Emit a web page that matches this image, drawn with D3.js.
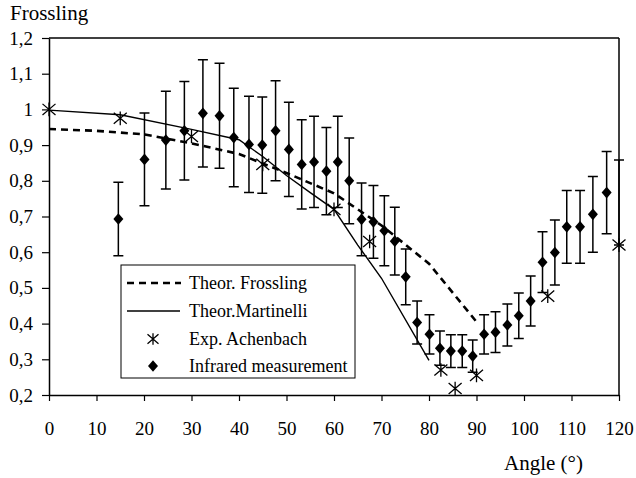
<!DOCTYPE html>
<html><head><meta charset="utf-8">
<script src="https://cdn.jsdelivr.net/npm/d3@7"></script>
<style>
body{margin:0;background:#fff;}
text{font-family:"Liberation Serif","Times New Roman",Times,serif;fill:#000;}
</style></head>
<body><svg id="c" width="636" height="478"></svg>
<script>
// ---- data ----
const xTicks = [0,10,20,30,40,50,60,70,80,90,100,110,120];
const yTicks = [0.2,0.3,0.4,0.5,0.6,0.7,0.8,0.9,1.0,1.1,1.2];
const yTickLabels = ["0,2","0,3","0,4","0,5","0,6","0,7","0,8","0,9","1","1,1","1,2"];

const frosslingAngle = [0,10,20,30,40,50,60,70,80,90];
const frosslingValue = [0.945,0.940,0.930,0.905,0.875,0.822,0.765,0.675,0.568,0.405];

const martinelliAngle = [0,15,30,40,45,50,55,60,65,70,80];
const martinelliValue = [0.998,0.985,0.944,0.915,0.868,0.815,0.767,0.720,0.620,0.527,0.297];

const achenbachAngle = [0,15,30,45,60,67.5,82.5,85.5,90,105,120];
const achenbachValue = [1.0,0.975,0.924,0.846,0.72,0.63,0.27,0.218,0.255,0.477,0.62];

const irAngle = [14.6,20.1,24.6,28.5,32.4,35.9,38.9,42.1,44.9,47.7,50.5,53.2,55.8,58.4,60.8,63.2,65.8,68.3,70.6,72.8,75.1,77.5,80.1,82.3,84.6,87.0,89.2,91.6,94.0,96.5,98.9,101.4,103.9,106.5,109.0,111.8,114.5,117.4];
const irValue = [0.693,0.860,0.914,0.940,0.989,0.982,0.921,0.902,0.900,0.940,0.888,0.846,0.853,0.827,0.853,0.800,0.692,0.685,0.660,0.631,0.531,0.403,0.370,0.331,0.323,0.323,0.309,0.370,0.376,0.396,0.422,0.463,0.572,0.599,0.671,0.671,0.706,0.767];
const irError = [0.103,0.130,0.137,0.138,0.150,0.147,0.138,0.135,0.135,0.140,0.132,0.125,0.128,0.122,0.128,0.120,0.102,0.102,0.098,0.095,0.078,0.060,0.055,0.048,0.046,0.046,0.045,0.055,0.057,0.059,0.064,0.070,0.085,0.091,0.102,0.102,0.106,0.115];

// error bar at the right edge without visible marker
const edgeBarAngle = [120];
const edgeBarLow = [0.62];
const edgeBarHigh = [0.858];

const legendLabels = ["Theor. Frossling","Theor.Martinelli","Exp. Achenbach","Infrared measurement"];

// ---- drawing ----
const svg = d3.select("#c");
const x = d3.scaleLinear().domain([0,120]).range([49,619]);
const y = d3.scaleLinear().domain([0.2,1.2]).range([395,38]);

// frame top & right
svg.append("line").attr("x1",x(0)).attr("x2",x(120)).attr("y1",y(1.2)).attr("y2",y(1.2)).attr("stroke","#000").attr("stroke-width",1.5);
svg.append("line").attr("x1",x(120)).attr("x2",x(120)).attr("y1",y(1.2)).attr("y2",y(0.2)).attr("stroke","#000").attr("stroke-width",1.5);

const xAxis = svg.append("g").attr("transform",`translate(0,${y(0.2)})`)
  .call(d3.axisBottom(x).tickValues(xTicks).tickSize(6).tickSizeOuter(0).tickPadding(21).tickFormat(d=>String(d)));
const yAxis = svg.append("g").attr("transform",`translate(${x(0)},0)`)
  .call(d3.axisLeft(y).tickValues(yTicks).tickSize(7).tickSizeOuter(0).tickPadding(9).tickFormat((d,i)=>yTickLabels[i]));
[xAxis,yAxis].forEach(g=>{
  g.attr("font-family",null);
  g.selectAll("path.domain").attr("stroke","#000").attr("stroke-width",1.5);
  g.selectAll(".tick line").attr("stroke","#000").attr("stroke-width",1.2);
  g.selectAll("text").attr("font-size",19).attr("fill","#000");
});

svg.append("text").attr("x",10).attr("y",20).attr("font-size",21).text("Frossling");
svg.append("text").attr("x",504).attr("y",470).attr("font-size",21).text("Angle (°)");

// lines
const line = d3.line().x(d=>x(d[0])).y(d=>y(d[1]));
svg.append("path").datum(frosslingAngle.map((a,i)=>[a,frosslingValue[i]]))
  .attr("d",line).attr("fill","none").attr("stroke","#000").attr("stroke-width",2.6).attr("stroke-dasharray","7,5");
svg.append("path").datum(martinelliAngle.map((a,i)=>[a,martinelliValue[i]]))
  .attr("d",line).attr("fill","none").attr("stroke","#000").attr("stroke-width",1.4);

// error bars
const cap = 5;
const bars = irAngle.map((a,i)=>({a, lo:irValue[i]-irError[i], hi:irValue[i]+irError[i]}))
  .concat(edgeBarAngle.map((a,i)=>({a, lo:edgeBarLow[i], hi:edgeBarHigh[i]})));
const eb = svg.append("g").attr("stroke","#000").attr("stroke-width",1.5).attr("fill","none");
bars.forEach(b=>{
  eb.append("path").attr("d",
    `M${x(b.a)},${y(b.hi)}V${y(b.lo)}M${x(b.a)-cap},${y(b.hi)}H${x(b.a)+cap}M${x(b.a)-cap},${y(b.lo)}H${x(b.a)+cap}`);
});

// diamonds
const diamond = (cx,cy,w,h)=>`M${cx},${cy-h}L${cx+w},${cy}L${cx},${cy+h}L${cx-w},${cy}Z`;
svg.append("g").selectAll("path").data(irAngle.map((a,i)=>[a,irValue[i]])).join("path")
  .attr("d",d=>diamond(x(d[0]),y(d[1]),5,5.8)).attr("fill","#000");

// asterisks
const star = (cx,cy,s)=>`M${cx-s},${cy-s*0.85}L${cx+s},${cy+s*0.85}M${cx-s},${cy+s*0.85}L${cx+s},${cy-s*0.85}M${cx},${cy-s*1.05}V${cy+s*1.05}`;
svg.append("g").selectAll("path").data(achenbachAngle.map((a,i)=>[a,achenbachValue[i]])).join("path")
  .attr("d",d=>star(x(d[0]),y(d[1]),6.5)).attr("stroke","#000").attr("stroke-width",1.3).attr("fill","none");

// legend
const lg = svg.append("g");
lg.append("rect").attr("x",121).attr("y",265).attr("width",234).attr("height",113)
  .attr("fill","#fff").attr("stroke","#000").attr("stroke-width",1);
const rowY = [283,311,339,366];
lg.append("line").attr("x1",127).attr("x2",181).attr("y1",rowY[0]).attr("y2",rowY[0])
  .attr("stroke","#000").attr("stroke-width",2.6).attr("stroke-dasharray","7,5");
lg.append("line").attr("x1",127).attr("x2",180).attr("y1",rowY[1]).attr("y2",rowY[1])
  .attr("stroke","#000").attr("stroke-width",1.4);
lg.append("path").attr("d",star(153,rowY[2],5.5)).attr("stroke","#000").attr("stroke-width",1.3).attr("fill","none");
lg.append("path").attr("d",diamond(153,rowY[3],5,5.8)).attr("fill","#000");
lg.selectAll("text.l").data(legendLabels).join("text").attr("class","l")
  .attr("x",189).attr("y",(d,i)=>rowY[i]+6).attr("font-size",18).text(d=>d);
</script></body></html>
